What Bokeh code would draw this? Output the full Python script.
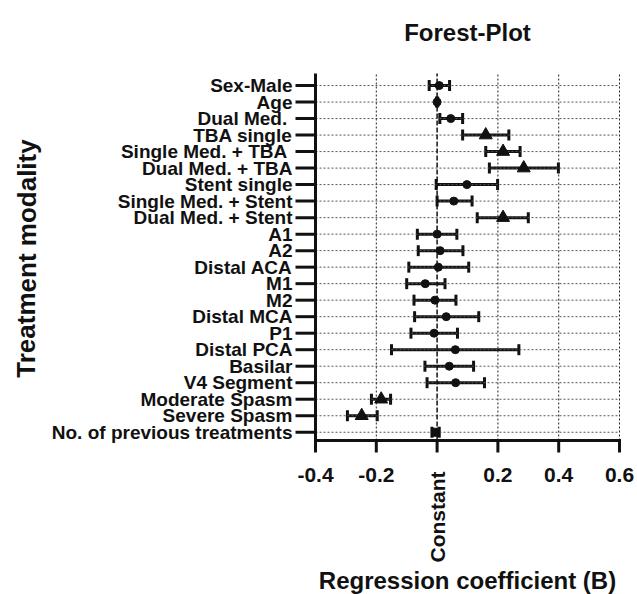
from bokeh.plotting import figure
from bokeh.models import (ColumnDataSource, FixedTicker, Whisker, TeeHead, Label)
from bokeh.embed import file_html
from bokeh.resources import INLINE

categories = ["Sex-Male", "Age", "Dual Med. ", "TBA single", "Single Med.  + TBA",
              "Dual Med. + TBA", "Stent single", "Single Med. + Stent", "Dual Med. + Stent",
              "A1", "A2", "Distal ACA", "M1", "M2", "Distal MCA", "P1", "Distal PCA",
              "Basilar", "V4 Segment", "Moderate Spasm", "Severe Spasm",
              "No. of previous treatments"]
estimate = [0.007, 0.0, 0.045, 0.160, 0.217, 0.285, 0.098, 0.055, 0.217,
            0.0, 0.010, 0.004, -0.039, -0.007, 0.030, -0.010, 0.060,
            0.040, 0.061, -0.184, -0.248, -0.005]
lower = [-0.026, -0.002, 0.009, 0.084, 0.160, 0.172, -0.003, 0.0, 0.132,
         -0.065, -0.062, -0.093, -0.100, -0.076, -0.074, -0.086, -0.150,
         -0.040, -0.033, -0.216, -0.295, -0.017]
upper = [0.041, 0.002, 0.084, 0.236, 0.273, 0.399, 0.199, 0.115, 0.300,
         0.065, 0.085, 0.104, 0.026, 0.062, 0.137, 0.067, 0.269,
         0.120, 0.156, -0.153, -0.197, 0.007]
markers = ["circle", "circle", "circle", "triangle", "triangle", "triangle", "circle",
           "circle", "triangle", "circle", "circle", "circle", "circle", "circle",
           "circle", "circle", "circle", "circle", "circle", "triangle", "triangle",
           "square"]
x_ticks = [-0.4, -0.2, 0.0, 0.2, 0.4, 0.6]
x_tick_labels = ["-0.4", "-0.2", "", "0.2", "0.4", "0.6"]
title_text = "Forest-Plot"
constant_label = "Constant"
x_title = "Regression coefficient (B)"
y_title = "Treatment modality"

n = len(categories)
ypos = [n - 1 - i for i in range(n)]
sizes = [13 if m == "triangle" else 8 for m in markers]
src = ColumnDataSource(dict(y=ypos, est=estimate, lo=lower, hi=upper,
                            marker=markers, size=sizes))

FONT = "Liberation Sans, Arial, Helvetica, sans-serif"
INK = "#111111"
W, H = 637, 594
LEFT, RIGHT_PAD = 315, 18      # plotting-area inset inside the full-canvas frame (px)
TOP_PAD, BOT_PAD = 73, 154
Y0, Y1 = -0.5, n - 1 + 0.73
X0, X1 = x_ticks[0], x_ticks[-1]
ky = (H - TOP_PAD - BOT_PAD) / (Y1 - Y0)
kx = (W - LEFT - RIGHT_PAD) / (X1 - X0)
y_range = (Y0 - BOT_PAD / ky, Y1 + TOP_PAD / ky)
x_range = (X0 - LEFT / kx, X1 + RIGHT_PAD / kx)

p = figure(width=W, height=H, output_backend="svg", toolbar_location=None,
           x_range=x_range, y_range=y_range,
           min_border_left=0, min_border_right=0, min_border_top=0,
           min_border_bottom=0)
p.outline_line_color = None
p.grid.visible = False

# y axis (labels only; line and ticks drawn below)
p.yaxis.fixed_location = X0
p.yaxis.bounds = (Y0, Y1)
p.yaxis.ticker = FixedTicker(ticks=ypos)
p.yaxis.major_label_overrides = {y: c for y, c in zip(ypos, categories)}
p.yaxis.major_label_text_font = FONT
p.yaxis.major_label_text_font_style = "bold"
p.yaxis.major_label_text_font_size = "19px"
p.yaxis.major_label_text_color = INK
p.yaxis.major_label_standoff = 3
p.yaxis.major_tick_out = 20
p.yaxis.major_tick_in = 0
p.yaxis.major_tick_line_color = None
p.yaxis.minor_tick_line_color = None
p.yaxis.axis_line_color = None

# x axis (labels + title; line and ticks drawn below)
p.xaxis.fixed_location = Y0
p.xaxis.bounds = (X0, X1)
p.xaxis.ticker = FixedTicker(ticks=x_ticks)
p.xaxis.major_label_overrides = {t: l for t, l in zip(x_ticks, x_tick_labels)}
p.xaxis.major_label_text_font = FONT
p.xaxis.major_label_text_font_style = "bold"
p.xaxis.major_label_text_font_size = "21px"
p.xaxis.major_label_text_color = INK
p.xaxis.major_label_standoff = 15
p.xaxis.major_tick_out = 12
p.xaxis.major_tick_in = 0
p.xaxis.major_tick_line_color = None
p.xaxis.minor_tick_line_color = None
p.xaxis.axis_line_color = None
p.xaxis.axis_label = x_title
p.xaxis.axis_label_text_font = FONT
p.xaxis.axis_label_text_font_style = "bold"
p.xaxis.axis_label_text_font_size = "24px"
p.xaxis.axis_label_text_color = INK
p.xaxis.axis_label_standoff = 82

# grid lines (limited to the plotting area)
p.segment(x0=X0, x1=X1, y0=ypos, y1=ypos, line_color="#555555",
          line_dash="2 2", line_width=1)
vx = [t for t in x_ticks if t != 0.0]
p.segment(x0=vx, x1=vx, y0=Y0, y1=Y1, line_color="#222222",
          line_dash="2 2", line_width=1)
p.segment(x0=[0.0], x1=[0.0], y0=Y0, y1=Y1, line_color=INK,
          line_dash="5 2", line_width=1.5)

# axis lines and tick marks
p.segment(x0=[X0], x1=[X0], y0=[Y0 - 1.5 / ky], y1=[Y1], line_color=INK, line_width=3)
p.segment(x0=[X0], x1=[X1 + 1.5 / kx], y0=[Y0], y1=[Y0], line_color=INK, line_width=3)
p.segment(x0=X0 - 20 / kx, x1=X0, y0=ypos, y1=ypos, line_color=INK, line_width=3)
p.segment(x0=x_ticks, x1=x_ticks, y0=Y0, y1=Y0 - 12 / ky, line_color=INK, line_width=3)

w = Whisker(source=src, base="y", lower="lo", upper="hi", dimension="width",
            line_color=INK, line_width=3,
            upper_head=TeeHead(size=11, line_width=3, line_color=INK),
            lower_head=TeeHead(size=11, line_width=3, line_color=INK))
p.add_layout(w)

p.scatter(x="est", y="y", marker="marker", size="size", source=src,
          fill_color=INK, line_color=INK)

p.add_layout(Label(x=(X0 + X1) / 2, y=Y1 + (TOP_PAD - 32) / ky, text=title_text,
                   text_align="center", text_baseline="middle", text_font=FONT,
                   text_font_style="bold", text_font_size="24px", text_color=INK))
p.add_layout(Label(x=0.0, y=Y0 - 31 / ky, text=constant_label, angle=1.5707963,
                   text_align="right", text_baseline="middle", text_font=FONT,
                   text_font_style="bold", text_font_size="21px", text_color=INK))
p.add_layout(Label(x=X0 - (LEFT - 26) / kx, y=Y1 - (258 - TOP_PAD) / ky, text=y_title,
                   angle=1.5707963, text_align="center", text_baseline="middle",
                   text_font=FONT, text_font_style="bold", text_font_size="26px",
                   text_color=INK))

open("out.html", "w").write(file_html(p, INLINE))
